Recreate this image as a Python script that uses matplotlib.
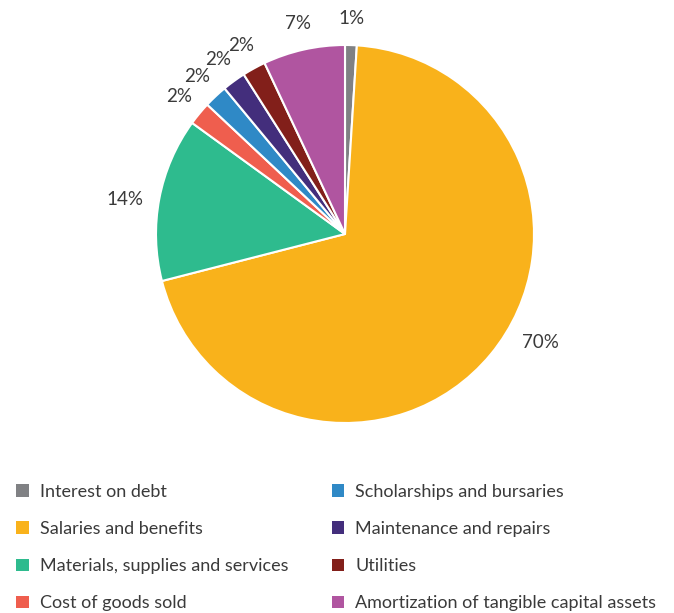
import numpy as np
import matplotlib.pyplot as plt
from matplotlib.patches import Patch

plt.rcParams['font.family'] = ['Lato', 'DejaVu Sans']

categories = [
    "Interest on debt",
    "Salaries and benefits",
    "Materials, supplies and services",
    "Cost of goods sold",
    "Scholarships and bursaries",
    "Maintenance and repairs",
    "Utilities",
    "Amortization of tangible capital assets",
]
shares = [1, 70, 14, 2, 2, 2, 2, 7]
colors = ["#808184", "#F9B21B", "#2EBB8E", "#EF5E4E",
          "#2F89C6", "#432E7C", "#821F1A", "#B055A0"]
text_color = "#3a3a3a"

W, H = 674, 613
fig = plt.figure(figsize=(W / 100, H / 100), dpi=100)

# pie centred at (345, 234) px, radius 189 px
cx, cy, r = 345, 234, 189
ax = fig.add_axes([(cx - r) / W, (H - cy - r) / H, 2 * r / W, 2 * r / H])

wedges, texts, autotexts = ax.pie(
    shares, colors=colors, startangle=90, counterclock=False,
    autopct="%d%%", pctdistance=1.14, radius=1,
    wedgeprops=dict(edgecolor="white", linewidth=1.5),
    textprops=dict(color=text_color, fontsize=13.5),
)
ax.set_xlim(-1, 1)
ax.set_ylim(-1, 1)
ax.set_aspect("auto")

# the large slice's label sits lower on the rim
big = int(np.argmax(shares))
ang = np.deg2rad(-29)
autotexts[big].set_position((1.18 * np.cos(ang), 1.18 * np.sin(ang)))
# the mid-size slice's label sits a little further out
ang14 = np.deg2rad(171)
autotexts[2].set_position((1.18 * np.cos(ang14), 1.18 * np.sin(ang14)))

handles = [Patch(facecolor=c, edgecolor="none") for c in colors]
fig.legend(handles, categories, loc="upper left",
           bbox_to_anchor=(16 / W, 1 - 484 / H), ncol=2, frameon=False,
           fontsize=13, labelcolor=text_color, handlelength=0.7,
           handleheight=0.7, handletextpad=0.62, labelspacing=1.17,
           columnspacing=2.4, borderpad=0, borderaxespad=0)

fig.savefig("out.png", dpi=100)
